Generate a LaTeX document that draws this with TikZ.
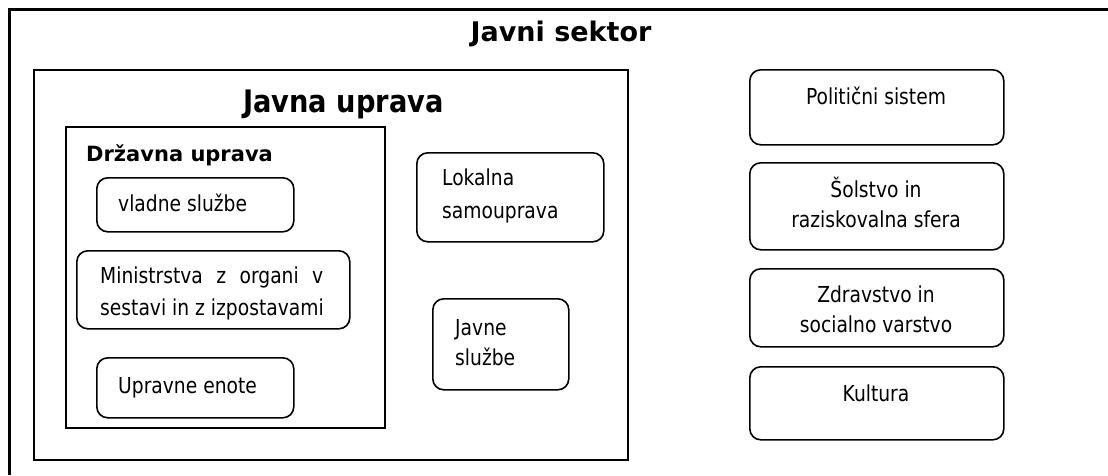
\documentclass[tikz,border=0pt]{standalone}
\usepackage{fontspec}
\setmainfont{DejaVu Sans}
\newfontfamily\bodyf{DejaVu Sans}[FakeStretch=0.85]
\newfontfamily\jupf{DejaVu Sans}[FakeStretch=0.88]
\begin{document}
\begin{tikzpicture}[x=1pt,y=-1pt,
  frame/.style={draw=black, line width=1.6pt, inner sep=0pt, anchor=north west},
  rbox/.style={draw=black, line width=1.6pt, rounded corners=11pt, inner sep=0pt, anchor=north west},
  body/.style={font=\bodyf\fontsize{22}{30}\selectfont, inner sep=0pt},
  ttl/.style={font=\bfseries\fontsize{27}{30}\selectfont, inner sep=0pt},
  ]
\useasboundingbox (0,0) rectangle (1108,475);
% outer frame (only top and left edges visible)
\coordinate (fbl) at (9,475);
\coordinate (ftl) at (9,9);
\coordinate (ftr) at (1108,9);
\draw[line width=3pt] (fbl) -- (ftl) -- (ftr);
\node[ttl, anchor=base] (jstitle) at (561,41) {Javni sektor};

% Javna uprava
\node[frame, minimum width=594pt, minimum height=390pt] (ju) at (33,69) {};
\node[font=\jupf\bfseries\fontsize{31}{34}\selectfont, inner sep=0pt, anchor=base west] (jutitle) at (243,112) {Javna uprava};

% Drzavna uprava
\node[frame, minimum width=319pt, minimum height=301pt] (du) at (65,126) {};
\node[font=\bfseries\fontsize{21}{24}\selectfont, inner sep=0pt, anchor=base west] (dutitle) at (86,161) {Državna uprava};

\node[rbox, minimum width=197pt, minimum height=54pt] (vs) at (96,177) {};
\node[body, anchor=base west] (vst) at (118,211) {vladne službe};

\node[rbox, minimum width=273pt, minimum height=78pt] (min) at (76,250) {};
\node[body, anchor=base west] (mint1) at (100,283) {\makebox[223pt][l]{Ministrstva\hfill z\hfill organi\hfill v}};
\node[body, anchor=base west] (mint2) at (100,315) {sestavi in z izpostavami};

\node[rbox, minimum width=197pt, minimum height=60pt] (ue) at (96,357) {};
\node[body, anchor=base west] (uet) at (118,393) {Upravne enote};

% Lokalna samouprava, Javne sluzbe
\node[rbox, minimum width=187pt, minimum height=89pt] (lok) at (416,152) {};
\node[body, anchor=base west] (lokt1) at (442,185) {Lokalna};
\node[body, anchor=base west] (lokt2) at (442,218) {samouprava};

\node[rbox, minimum width=136pt, minimum height=91pt] (jsl) at (432,298) {};
\node[body, anchor=base west] (jslt1) at (455,335) {Javne};
\node[body, anchor=base west] (jslt2) at (455,365) {službe};

% right column
\node[rbox, minimum width=254pt, minimum height=75pt] (pol) at (749,69) {};
\node[body, anchor=base] (polt) at (876,104) {Politični sistem};

\node[rbox, minimum width=254pt, minimum height=87pt] (sol) at (749,162) {};
\node[body, anchor=base] (solt1) at (876,197) {Šolstvo in};
\node[body, anchor=base] (solt2) at (876,227) {raziskovalna sfera};

\node[rbox, minimum width=254pt, minimum height=78pt] (zdr) at (749,268) {};
\node[body, anchor=base] (zdrt1) at (876,302) {Zdravstvo in};
\node[body, anchor=base] (zdrt2) at (876,332) {socialno varstvo};

\node[rbox, minimum width=254pt, minimum height=73pt] (kul) at (749,366) {};
\node[body, anchor=base] (kult) at (876,401) {Kultura};
\end{tikzpicture}
\end{document}
